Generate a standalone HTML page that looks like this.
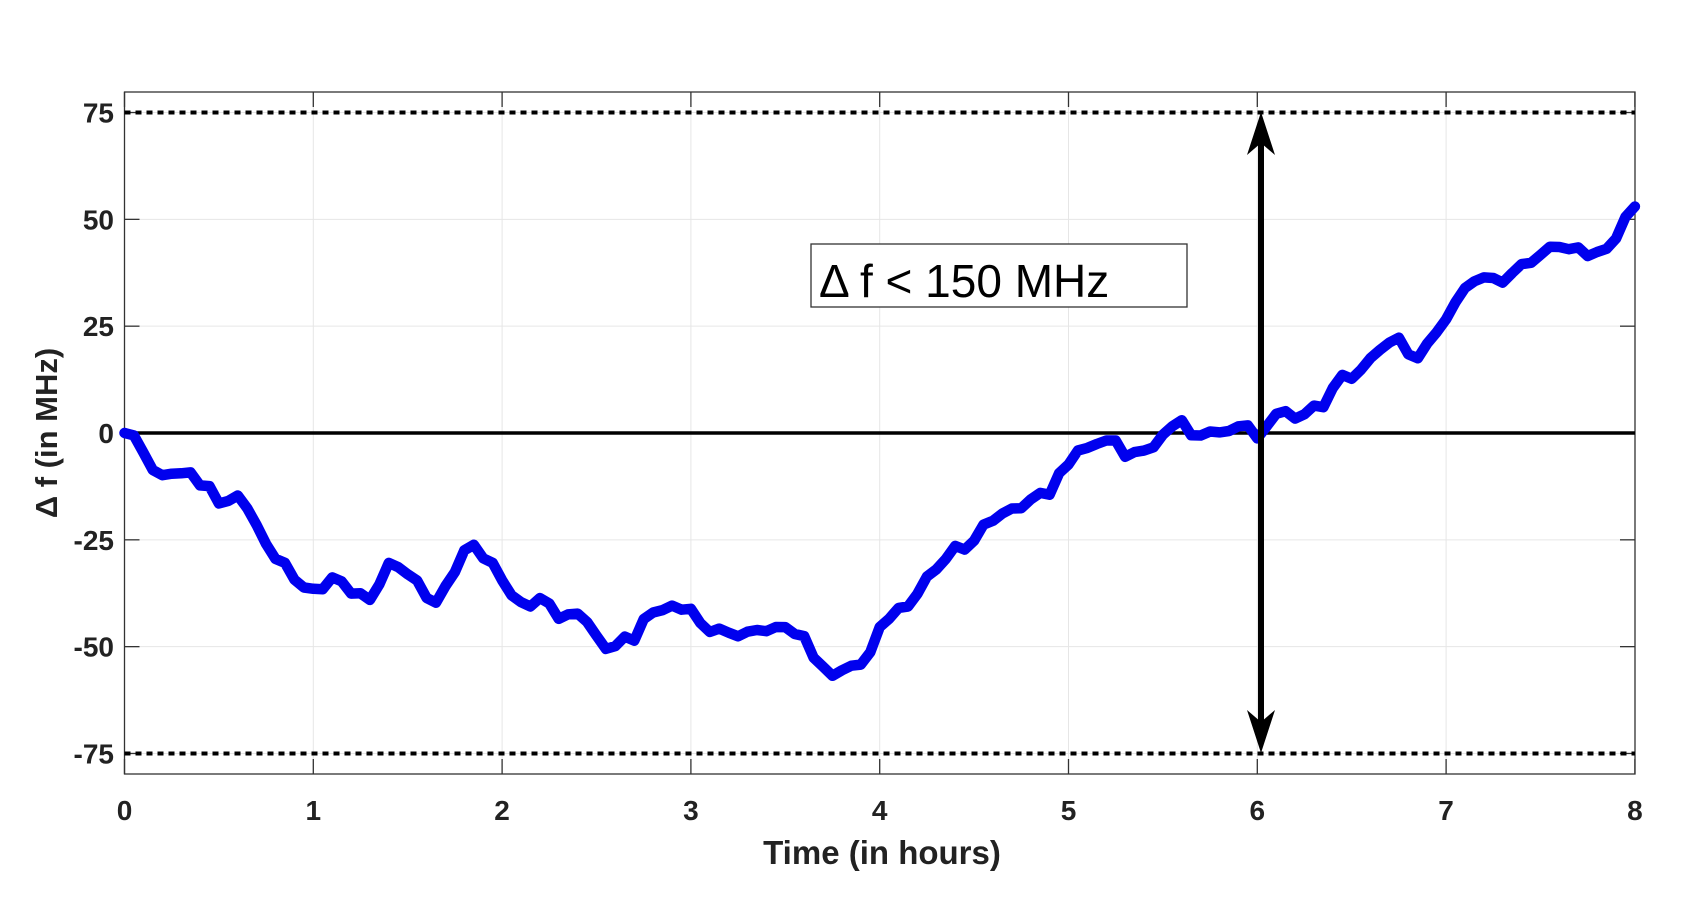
<!DOCTYPE html>
<html><head><meta charset="utf-8"><style>
html,body{margin:0;padding:0;background:#fff}
svg text{font-family:"Liberation Sans",Arial,sans-serif}
</style></head><body>
<svg id="s" width="1694" height="910" viewBox="0 0 1694 910" xmlns="http://www.w3.org/2000/svg">
<g id="grid" stroke="#e6e6e6" stroke-width="1"></g>
<rect x="124.5" y="92" width="1510.5" height="682" fill="none" stroke="#333" stroke-width="1.3"/>
<g id="ticks" stroke="#333" stroke-width="1.3"></g>
<g id="labels" font-size="28" font-weight="bold" fill="#222"></g>
<line x1="124.5" y1="112.5" x2="1635" y2="112.5" stroke="#000" stroke-width="4" stroke-dasharray="6 5"/>
<line x1="124.5" y1="753.5" x2="1635" y2="753.5" stroke="#000" stroke-width="4" stroke-dasharray="6 5"/>
<line x1="124.5" y1="433" x2="1635" y2="433" stroke="#000" stroke-width="3.5"/>
<path id="curve" fill="none" stroke="#0000ee" stroke-width="10.5" stroke-linejoin="round" stroke-linecap="round"/>
<line x1="1261" y1="140" x2="1261" y2="726" stroke="#000" stroke-width="6"/>
<polygon points="1261,112 1247,155 1261,143 1275,155" fill="#000"/>
<polygon points="1261,753 1247,710 1261,722 1275,710" fill="#000"/>
<rect x="811" y="244" width="376" height="63" fill="#fff" stroke="#333" stroke-width="1.3"/>
<text x="819" y="297" font-size="46" fill="#000">Δ f &lt; 150 MHz</text>
<text x="882" y="864" font-size="33" font-weight="bold" fill="#222" text-anchor="middle">Time (in hours)</text>
<text transform="translate(57,433) rotate(-90)" font-size="31" font-weight="bold" fill="#222" text-anchor="middle">Δ f (in MHz)</text>
</svg>
<script>
var X=function(h){return 124.5+h*188.8},Y=function(v){return 433-v*4.273};
var g=document.getElementById('grid'),t=document.getElementById('ticks'),l=document.getElementById('labels');
var ns='http://www.w3.org/2000/svg';
function el(p,tag,a,txt){var e=document.createElementNS(ns,tag);for(var k in a)e.setAttribute(k,a[k]);if(txt!=null)e.textContent=txt;p.appendChild(e);}
for(var i=0;i<=8;i++){var x=X(i);el(g,'line',{x1:x,y1:92,x2:x,y2:774});el(t,'line',{x1:x,y1:774,x2:x,y2:759});el(t,'line',{x1:x,y1:92,x2:x,y2:107});el(l,'text',{x:x,y:820,'text-anchor':'middle'},i);}
[75,50,25,0,-25,-50,-75].forEach(function(v){var y=Y(v);el(g,'line',{x1:124.5,y1:y,x2:1635,y2:y});el(t,'line',{x1:124.5,y1:y,x2:139.5,y2:y});el(t,'line',{x1:1635,y1:y,x2:1620,y2:y});el(l,'text',{x:114,y:y+10,'text-anchor':'end'},v);});
var d=[0,-1,-4,-9,-10,-9,-10,-9,-12,-13,-16,-16,-15,-17,-22,-26,-29,-31,-34,-36,-37,-36,-34,-35,-37,-38,-39,-35,-31,-31,-33,-35,-38,-40,-36,-32,-28,-26,-29,-31,-34,-38,-40,-40,-39,-40,-43,-43,-42,-44,-48,-50,-50,-48,-48,-44,-42,-41,-41,-41,-41,-45,-46,-46,-47,-47,-47,-46,-46,-46,-45,-47,-48,-52,-55,-57,-55,-55,-54,-51,-46,-43,-41,-41,-37,-34,-32,-29,-27,-27,-25,-22,-20,-19,-18,-17,-16,-14,-14,-10,-7,-4,-4,-2,-2,-2,-5,-5,-4,-3,-1,2,3,-1,0,0,0,1,1,2,-1,1,5,5,3,5,6,6,11,13,13,15,17,20,21,22,19,17,21,24,26,31,34,35,37,36,35,38,39,40,42,43,44,43,43,42,42,43,46,50,53];
var p='';for(var j=0;j<d.length;j++){var h=j*8/(d.length-1);var w=(j>0&&j<d.length-1)?Math.sin(j*2.3)*0.6:0;p+=(j?'L':'M')+X(h).toFixed(1)+','+Y(d[j]+w).toFixed(1);}
document.getElementById('curve').setAttribute('d',p);
</script>
</body></html>
